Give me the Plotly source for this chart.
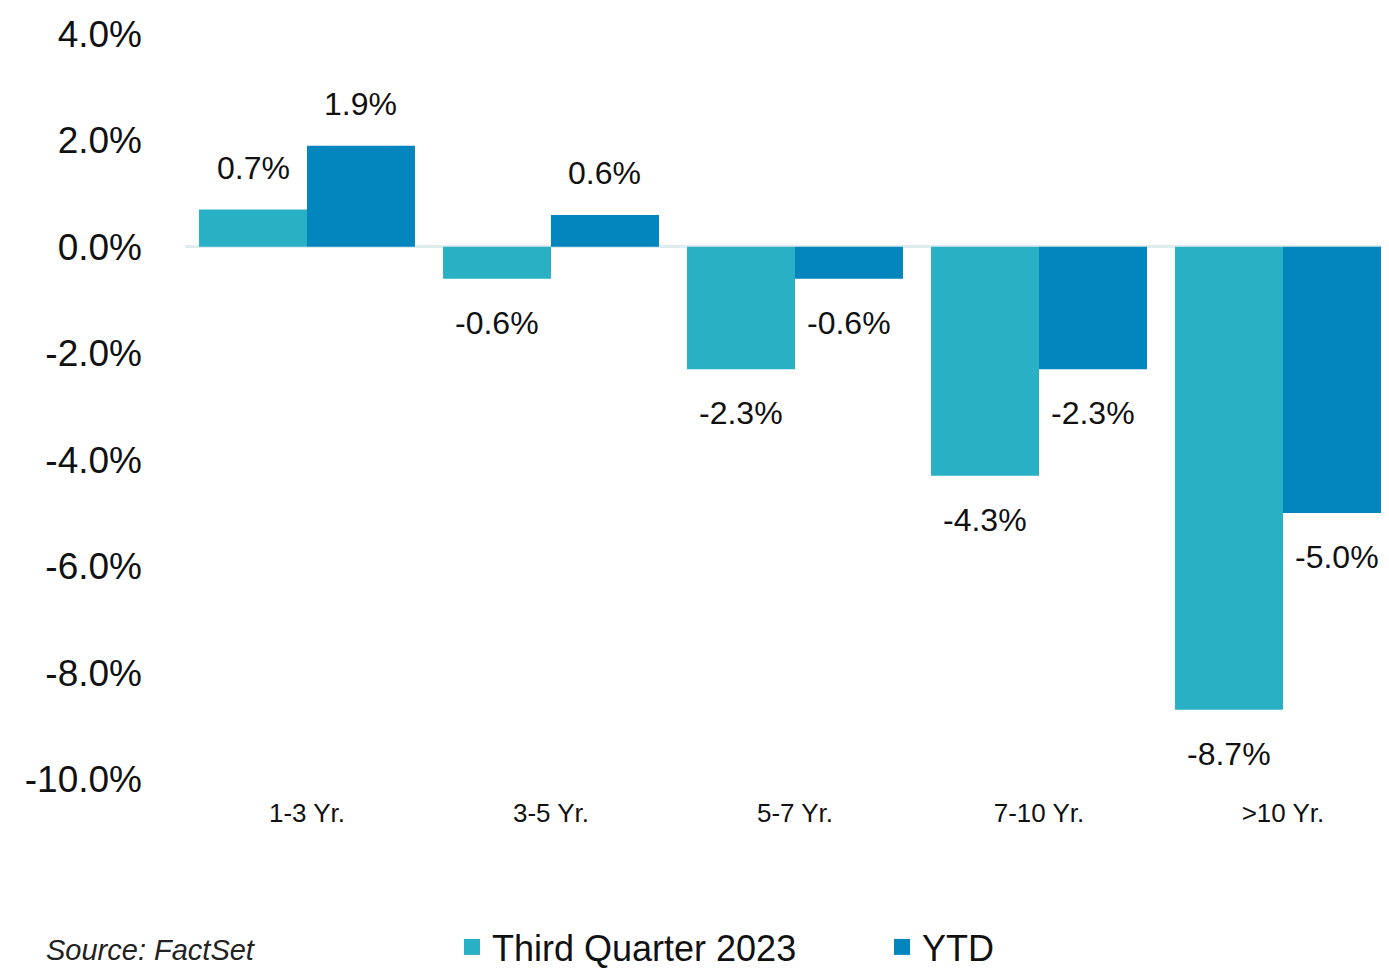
import plotly.graph_objects as go

categories = ["1-3 Yr.", "3-5 Yr.", "5-7 Yr.", "7-10 Yr.", ">10 Yr."]
q3_2023 = [0.7, -0.6, -2.3, -4.3, -8.7]
ytd = [1.9, 0.6, -0.6, -2.3, -5.0]
series_names = ["Third Quarter 2023", "YTD"]
colors = ["#2AB0C4", "#0385BD"]
y_ticks = [4, 2, 0, -2, -4, -6, -8, -10]
y_tick_labels = ["4.0%", "2.0%", "0.0%", "-2.0%", "-4.0%", "-6.0%", "-8.0%", "-10.0%"]

FONT = "Liberation Sans, Arial, Helvetica, sans-serif"
# page body has an 8px default margin; figure sized to fill the rest of the window
W, H = 1381, 962
L, T, B = 177, 26, 191
bargap = 0.115
cat_px = 244.0

fig = go.Figure()
for name, vals, col in zip(series_names, [q3_2023, ytd], colors):
    fig.add_trace(go.Bar(x=categories, y=vals, name=name, marker=dict(color=col, line=dict(width=0)),
                         showlegend=False))
    # legend proxy with a larger square symbol
    fig.add_trace(go.Scatter(x=[None], y=[None], mode="markers", name=name,
                             marker=dict(symbol="square", size=16, color=col), showlegend=True))

# data labels
half = (1 - bargap) / 4
for k, vals in enumerate([q3_2023, ytd]):
    off = -half if k == 0 else half
    for i, v in enumerate(vals):
        fig.add_annotation(x=i + off, y=v, xref="x", yref="y", text=f"{v:.1f}%", showarrow=False,
                           yanchor="middle", xanchor="center", yshift=42 if v >= 0 else -44,
                           font=dict(family=FONT, size=32, color="#111111"))

plot_h = H - B - T
fig.add_annotation(x=(36 - L) / (W - L), y=(H - B - 942) / plot_h, xref="paper", yref="paper",
                   text="<i>Source: FactSet</i>", showarrow=False, xanchor="left", yanchor="middle",
                   font=dict(family=FONT, size=29, color="#222222"))

fig.update_layout(
    width=W, height=H,
    margin=dict(l=L, r=0, t=T, b=B, pad=0),
    paper_bgcolor="white", plot_bgcolor="white",
    barmode="group", bargap=bargap, bargroupgap=0,
    font=dict(family=FONT, color="#111111"),
    legend=dict(orientation="h", xref="container", yref="container", x=444 / W, y=(H - 939) / H,
                xanchor="left", yanchor="middle", font=dict(family=FONT, size=36, color="#111111"),
                itemsizing="trace", bgcolor="rgba(0,0,0,0)", entrywidth=385, entrywidthmode="pixels",
                tracegroupgap=0),
    xaxis=dict(type="category", range=[-0.5, -0.5 + (W - L) / cat_px], showgrid=False, zeroline=False,
               showline=False, ticks="", tickfont=dict(family=FONT, size=26, color="#111111"),
               ticklabelstandoff=16, fixedrange=True),
    yaxis=dict(range=[-10, 4], tickvals=y_ticks, ticktext=y_tick_labels, showgrid=False,
               zeroline=True, zerolinecolor="#DFECEE", zerolinewidth=3, showline=False, ticks="",
               tickfont=dict(family=FONT, size=37, color="#111111"), ticklabelstandoff=42,
               fixedrange=True),
)

fig.write_html("out.html", config={"displayModeBar": False})
